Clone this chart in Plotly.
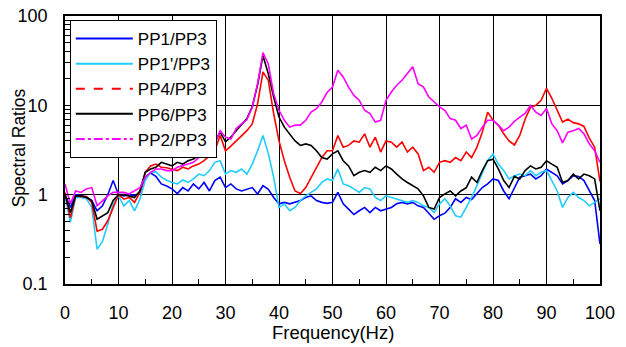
import plotly.graph_objects as go

freq = list(range(0, 101))

pp1 = [1.0, 0.72, 1.0, 0.97, 0.95, 0.86, 0.66, 0.75, 1.0, 1.44,
       1.0, 0.97, 1.0, 0.97, 1.06, 1.57, 1.75, 1.6, 1.32, 1.25,
       1.16, 1.03, 1.2, 1.1, 1.32, 1.16, 1.37, 1.1, 1.44, 1.57,
       1.2, 1.32, 1.16, 1.1, 1.16, 1.2, 1.02, 1.26, 1.15, 0.93,
       0.79, 0.82, 0.79, 0.82, 0.86, 0.93, 0.97, 0.86, 0.82, 0.8,
       0.82, 1.06, 0.79, 0.69, 0.6, 0.66, 0.72, 0.63, 0.72, 0.66,
       0.69, 0.72, 0.79, 0.82, 0.79, 0.82, 0.75, 0.72, 0.62, 0.53,
       0.58, 0.62, 0.72, 0.9, 0.82, 0.93, 0.88, 1.02, 1.2, 1.32,
       1.5, 1.44, 1.1, 0.9, 1.2, 1.57, 1.63, 1.7, 1.5, 1.63,
       1.94, 1.78, 1.63, 1.32, 1.44, 1.63, 1.6, 1.44, 1.1, 0.86,
       0.28]

pp1p = [0.97, 0.49, 0.93, 0.93, 0.9, 0.72, 0.245, 0.3, 0.47, 0.79,
        0.97, 0.75, 0.86, 0.66, 0.89, 1.44, 1.78, 1.8, 1.57, 1.45,
        1.37, 1.32, 1.46, 1.37, 1.5, 1.7, 1.63, 1.86, 2.3, 2.4,
        1.7, 1.86, 1.78, 1.94, 1.7, 2.2, 3.1, 4.6, 2.9, 1.57,
        0.72, 0.79, 0.66, 0.72, 0.86, 0.97, 1.06, 1.16, 1.37, 1.5,
        1.44, 1.94, 1.32, 1.26, 1.16, 1.06, 1.2, 1.16, 0.93, 0.86,
        0.97, 0.93, 0.9, 0.86, 0.82, 0.86, 0.82, 0.75, 0.72, 0.63,
        0.79, 0.9, 0.75, 0.58, 0.56, 0.72, 0.93, 1.26, 1.7, 2.4,
        2.86, 2.2, 1.86, 1.5, 1.63, 1.7, 1.63, 1.86, 1.63, 1.78,
        1.86, 1.44, 1.1, 0.72, 0.93, 1.06, 0.93, 0.86, 0.75, 0.82,
        0.9]

pp4 = [1.06, 0.55, 0.97, 0.95, 0.95, 0.82, 0.39, 0.41, 0.51, 0.72,
       1.0, 0.89, 0.93, 0.82, 1.06, 1.78, 2.1, 2.2, 2.03, 2.0,
       1.94, 1.86, 2.03, 1.94, 2.1, 2.2, 2.4, 2.74, 3.1, 4.6,
       3.1, 3.5, 4.0, 4.6, 5.2, 6.2, 10.4, 23.7, 19.0, 8.1,
       4.0, 2.4, 1.57, 1.1, 1.03, 1.2, 1.57, 2.0, 2.6, 3.1,
       3.1, 4.6, 3.4, 3.56, 4.0, 3.87, 4.8, 3.4, 4.4, 3.0,
       4.0, 3.87, 3.4, 3.87, 3.0, 3.4, 2.86, 1.86, 2.03, 1.78,
       2.3, 2.4, 2.3, 2.6, 2.4, 3.0, 2.6, 3.4, 5.0, 8.4,
       6.8, 6.0, 4.8, 4.0, 3.6, 4.6, 7.0, 9.5, 10.0, 11.4,
       15.5, 12.0, 9.0, 6.5, 7.0, 6.4, 6.2, 5.8, 4.3, 3.4,
       1.4]

pp6 = [1.0, 0.63, 0.97, 0.97, 0.93, 0.86, 0.53, 0.58, 0.63, 0.86,
       1.0, 1.0, 0.97, 0.93, 1.1, 1.78, 1.94, 2.03, 2.3, 2.2,
       2.1, 2.3, 2.2, 2.4, 2.5, 2.74, 3.1, 3.56, 3.9, 5.0,
       3.9, 4.4, 5.2, 6.0, 7.1, 9.6, 17.0, 36.0, 22.6, 12.4,
       7.4, 5.7, 4.8, 4.0, 3.56, 3.7, 3.56, 3.1, 2.6, 2.5,
       2.86, 3.1, 2.4, 2.1, 1.63, 1.78, 1.86, 1.78, 2.03, 1.86,
       2.1, 1.94, 1.7, 1.5, 1.37, 1.26, 1.16, 0.97, 0.72, 0.69,
       0.93, 1.02, 1.1, 0.97, 1.1, 1.2, 1.57, 1.37, 1.86, 2.4,
       2.5, 1.94, 1.44, 1.2, 1.6, 1.5, 1.86, 2.1, 1.94, 2.03,
       2.4, 2.2, 2.03, 1.37, 1.44, 1.7, 1.5, 1.7, 1.63, 1.5,
       0.66]

pp2 = [1.32, 0.79, 1.1, 1.06, 1.16, 1.2, 0.75, 0.85, 0.97, 1.06,
       1.06, 1.06, 1.02, 1.1, 1.2, 1.57, 1.78, 1.94, 1.94, 1.86,
       1.86, 2.03, 2.1, 2.2, 2.3, 2.6, 2.86, 3.26, 3.7, 5.2,
       4.4, 4.2, 5.5, 6.2, 6.9, 9.6, 17.5, 39.0, 29.0, 13.5,
       8.8, 6.8, 5.7, 6.0, 6.0, 6.8, 8.4, 9.2, 10.9, 14.0,
       16.0, 24.7, 20.8, 16.0, 12.9, 11.4, 8.8, 8.1, 6.5, 6.8,
       11.4, 14.1, 16.8, 19.1, 22.6, 27.0, 17.5, 16.0, 12.4, 11.0,
       9.6, 8.8, 7.1, 6.8, 5.5, 6.0, 4.2, 4.6, 5.7, 6.8,
       6.8, 6.0, 5.2, 5.7, 6.6, 7.4, 8.1, 10.0, 8.4, 7.7,
       9.2, 6.2, 5.2, 3.8, 5.0, 5.2, 5.5, 4.8, 3.7, 3.1,
       2.3]

names = ["PP1/PP3", "PP1'/PP3", "PP4/PP3", "PP6/PP3", "PP2/PP3"]
series = [pp1, pp1p, pp4, pp6, pp2]
colors = ["#0000FF", "#22CCFF", "#FF0000", "#000000", "#FF00FF"]
dashes = ["solid", "solid", "dash", "solid", "dashdot"]

fig = go.Figure()
for name, ys, col in zip(names, series, colors):
    fig.add_trace(go.Scatter(x=freq, y=ys, mode="lines", name=name,
                             line=dict(color=col, width=1.6),
                             showlegend=False))
for name, col, d in zip(names, colors, dashes):
    fig.add_trace(go.Scatter(x=[None], y=[None], mode="lines", name=name,
                             line=dict(color=col, width=2, dash=d),
                             showlegend=True))

FAM = "Liberation Sans, Arial, sans-serif"
tickfont = dict(family=FAM, size=18, color="black")
titlefont = dict(family=FAM, size=18.5, color="black")

minor_y = [v * m for m in (0.1, 1, 10) for v in range(2, 10)]

fig.update_layout(
    width=626, height=347,
    margin=dict(l=65, r=26, t=16, b=63, autoexpand=False),
    paper_bgcolor="white", plot_bgcolor="white",
    font=tickfont,
    legend=dict(x=0.009, y=0.985, xanchor="left", yanchor="top",
                bgcolor="white", bordercolor="black", borderwidth=1,
                font=dict(family=FAM, size=17, color="black"),
                itemwidth=57),
    xaxis=dict(range=[0, 100], dtick=10, tick0=0, showgrid=True,
               gridcolor="black", gridwidth=1, zeroline=False, automargin=False,
               showline=True, linecolor="black", linewidth=1.5, mirror=True,
               ticks="inside", ticklen=5, tickcolor="black",
               ticklabelstandoff=12, tickfont=tickfont,
               minor=dict(dtick=5, ticks="inside", ticklen=5, tickcolor="black", showgrid=False)),
    yaxis=dict(type="log", range=[-1, 2], tickvals=[0.1, 1, 10, 100],
               ticktext=["0.1", "1", "10", "100"], showgrid=True,
               gridcolor="black", gridwidth=1, zeroline=False, automargin=False,
               showline=True, linecolor="black", linewidth=1.5, mirror=True,
               ticks="inside", ticklen=5, tickcolor="black",
               ticklabelstandoff=12, tickfont=tickfont,
               minor=dict(tickvals=minor_y, ticks="inside", ticklen=5, tickcolor="black", showgrid=False)),
    annotations=[
        dict(text="Frequency(Hz)", xref="paper", yref="paper", x=0.5, y=-0.18,
             xanchor="center", yanchor="middle", showarrow=False, font=titlefont),
        dict(text="Spectral Ratios", xref="paper", yref="paper", x=-0.086, y=0.51,
             xanchor="center", yanchor="middle", textangle=-90, showarrow=False,
             font=dict(family=FAM, size=17.5, color="black")),
    ],
)

fig.write_html("out.html")
